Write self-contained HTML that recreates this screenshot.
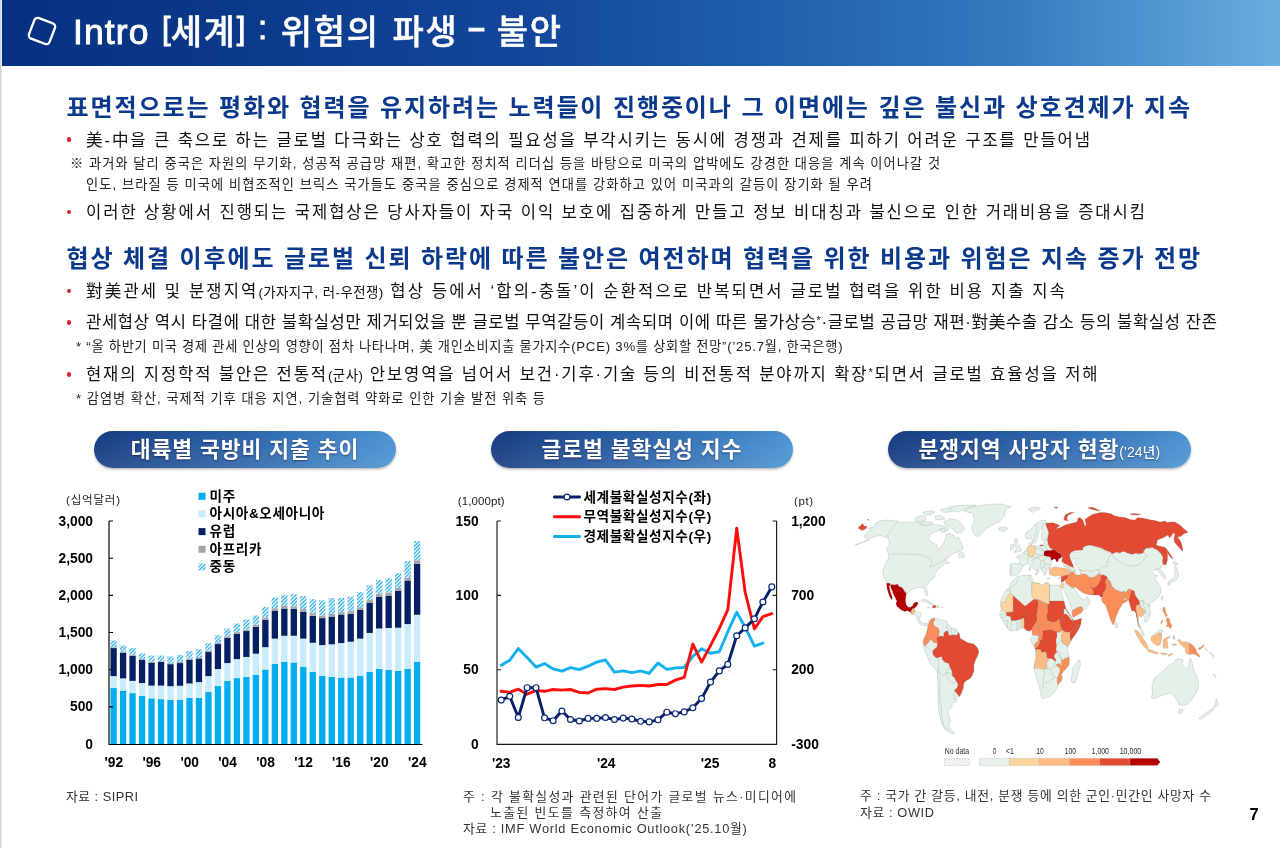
<!DOCTYPE html>
<html lang="ko"><head><meta charset="utf-8"><title>Intro [세계] : 위험의 파생 - 불안</title>
<style>
*{margin:0;padding:0;box-sizing:border-box}
html,body{width:1280px;height:848px;overflow:hidden;background:#fff}
body{position:relative;font-family:"Liberation Sans","Noto Sans CJK KR",sans-serif;}
.abs{position:absolute}
.hdr{position:absolute;left:0;top:0;width:1280px;height:66.4px;background:linear-gradient(90deg,#06307f 0%,#0a3988 18%,#12459a 40%,#1f5fab 60%,#3279bd 78%,#4f95d0 90%,#6badde 100%)}
.edge{position:absolute;left:0;top:0;width:2px;height:848px;background:linear-gradient(90deg,#d2d2d2,#ededed)}
.t{position:absolute;white-space:nowrap}
.sm{font-size:13.4px;letter-spacing:.45px}
.dash{display:inline-block;transform:translateY(-4.6px) scaleX(1.65)}
#title{-webkit-text-stroke:0.45px #fff;word-spacing:1.5px}
.la{font-weight:400;font-size:35.5px;-webkit-text-stroke:0.95px #fff;letter-spacing:1.1px}
.la,.lb,.lc{line-height:0}
.lb{font-size:31px;vertical-align:4.8px;letter-spacing:0}
.lc{font-size:33px;vertical-align:5.2px}
.sup{font-size:11px;position:relative;top:-4px}
.dot{position:absolute;width:4.4px;height:4.4px;border-radius:50%;background:#d8202a}
.pill{position:absolute;top:430.5px;height:37.5px;border-radius:19px;background:linear-gradient(180deg,rgba(255,255,255,0) 0%,rgba(255,255,255,.10) 100%),linear-gradient(90deg,#153a80 0%,#2b63aa 50%,#4b93d3 100%);box-shadow:0 1.5px 2.5px rgba(0,0,0,.28);color:#fff;font-weight:700;font-size:21.6px;line-height:37.5px;text-align:center;white-space:nowrap;text-shadow:0 1px 2px rgba(0,0,30,.45);letter-spacing:.9px}
.psm{font-size:14px;letter-spacing:0;font-weight:500}
.ax{font:700 13.8px "Liberation Sans","Noto Sans CJK KR",sans-serif;fill:#000}
.ml{font:400 8.6px "Liberation Sans","Noto Sans CJK KR",sans-serif;fill:#2b2b2b}
.lg{font:700 13.6px "Liberation Sans","Noto Sans CJK KR",sans-serif;fill:#000;letter-spacing:.62px}
</style></head>
<body>
<div class="hdr"></div>
<div class="edge"></div>
<svg class="abs" style="left:22px;top:11px" width="40" height="40" viewBox="0 0 40 40"><rect x="9" y="9" width="22" height="22" rx="3.6" fill="none" stroke="#fff" stroke-width="2.3" transform="rotate(21 20 20)"/></svg>
<div class="t " id="title" style="left:73px;top:7.00px;font-size:34px;line-height:51.0px;font-weight:500;color:#fff;letter-spacing:1.713px"><span class="la">Intro </span><span class="la lb">[</span>세계<span class="la lb">]</span> <span class="la lc">:</span> 위험의 파생 <span class="la dash">-</span> 불안</div>
<div class="t " id="h1" style="left:66.5px;top:90.00px;font-size:24px;line-height:36.0px;font-weight:700;color:#0b3a8c;letter-spacing:1.900px">표면적으로는 평화와 협력을 유지하려는 노력들이 진행중이나 그 이면에는 깊은 불신과 상호견제가 지속</div>
<div class="t " id="b1" style="left:86px;top:129.00px;font-size:16.6px;line-height:24.9px;font-weight:400;color:#111;letter-spacing:1.885px">美-中을 큰 축으로 하는 글로벌 다극화는 상호 협력의 필요성을 부각시키는 동시에 경쟁과 견제를 피하기 어려운 구조를 만들어냄</div>
<div class="t " id="n1" style="left:70px;top:154.00px;font-size:13.2px;line-height:19.8px;font-weight:400;color:#222;letter-spacing:1.072px">※ 과거와 달리 중국은 자원의 무기화, 성공적 공급망 재편, 확고한 정치적 리더십 등을 바탕으로 미국의 압박에도 강경한 대응을 계속 이어나갈 것</div>
<div class="t " id="n2" style="left:86px;top:175.00px;font-size:13.2px;line-height:19.8px;font-weight:400;color:#222;letter-spacing:1.100px">인도, 브라질 등 미국에 비협조적인 브릭스 국가들도 중국을 중심으로 경제적 연대를 강화하고 있어 미국과의 갈등이 장기화 될 우려</div>
<div class="t " id="b2" style="left:86px;top:201.00px;font-size:16.6px;line-height:24.9px;font-weight:400;color:#111;letter-spacing:1.928px">이러한 상황에서 진행되는 국제협상은 당사자들이 자국 이익 보호에 집중하게 만들고 정보 비대칭과 불신으로 인한 거래비용을 증대시킴</div>
<div class="t " id="h2" style="left:66.5px;top:241.00px;font-size:24px;line-height:36.0px;font-weight:700;color:#0b3a8c;letter-spacing:1.895px">협상 체결 이후에도 글로벌 신뢰 하락에 따른 불안은 여전하며 협력을 위한 비용과 위험은 지속 증가 전망</div>
<div class="t " id="b3" style="left:86px;top:280.00px;font-size:16.6px;line-height:24.9px;font-weight:400;color:#111;letter-spacing:2.100px">對美관세 및 분쟁지역<span class="sm">(가자지구, 러-우전쟁)</span> 협상 등에서 ‘합의-충돌’이 순환적으로 반복되면서 글로벌 협력을 위한 비용 지출 지속</div>
<div class="t " id="b4" style="left:86px;top:311.00px;font-size:16.6px;line-height:24.9px;font-weight:400;color:#111;letter-spacing:0.631px">관세협상 역시 타결에 대한 불확실성만 제거되었을 뿐 글로벌 무역갈등이 계속되며 이에 따른 물가상승<span class="sup">*</span>·글로벌 공급망 재편·對美수출 감소 등의 불확실성 잔존</div>
<div class="t " id="n3" style="left:76px;top:337.00px;font-size:13.2px;line-height:19.8px;font-weight:400;color:#222;letter-spacing:0.762px">* “올 하반기 미국 경제 관세 인상의 영향이 점차 나타나며, 美 개인소비지출 물가지수(PCE) 3%를 상회할 전망”(’25.7월, 한국은행)</div>
<div class="t " id="b5" style="left:86px;top:363.00px;font-size:16.6px;line-height:24.9px;font-weight:400;color:#111;letter-spacing:1.853px">현재의 지정학적 불안은 전통적<span class="sm">(군사)</span> 안보영역을 넘어서 보건·기후·기술 등의 비전통적 분야까지 확장<span class="sup">*</span>되면서 글로벌 효율성을 저해</div>
<div class="t " id="n4" style="left:76px;top:389.00px;font-size:13.2px;line-height:19.8px;font-weight:400;color:#222;letter-spacing:0.998px">* 감염병 확산, 국제적 기후 대응 지연, 기술협력 약화로 인한 기술 발전 위축 등</div>
<div class="t " id="s1" style="left:66px;top:787.00px;font-size:12.8px;line-height:19.2px;font-weight:400;color:#333;letter-spacing:0.484px">자료 : SIPRI</div>
<div class="t " id="s2a" style="left:463px;top:787.00px;font-size:12.8px;line-height:19.2px;font-weight:400;color:#333;letter-spacing:1.376px">주 : 각 불확실성과 관련된 단어가 글로벌 뉴스·미디어에</div>
<div class="t " id="s2b" style="left:490px;top:803.00px;font-size:12.8px;line-height:19.2px;font-weight:400;color:#333;letter-spacing:1.432px">노출된 빈도를 측정하여 산출</div>
<div class="t " id="s2c" style="left:463px;top:819.00px;font-size:12.8px;line-height:19.2px;font-weight:400;color:#333;letter-spacing:0.724px">자료 : IMF World Economic Outlook(’25.10월)</div>
<div class="t " id="s3a" style="left:860px;top:786.00px;font-size:12.8px;line-height:19.2px;font-weight:400;color:#333;letter-spacing:0.707px">주 : 국가 간 갈등, 내전, 분쟁 등에 의한 군인·민간인 사망자 수</div>
<div class="t " id="s3b" style="left:860px;top:803.00px;font-size:12.8px;line-height:19.2px;font-weight:400;color:#333;letter-spacing:0.619px">자료 : OWID</div>
<div class="t " id="pg" style="left:1249.6px;top:803.00px;font-size:16.6px;line-height:24.9px;font-weight:700;color:#000;letter-spacing:0.000px">7</div>
<div class="t " id="u1" style="left:66px;top:492.00px;font-size:11.5px;line-height:17.2px;font-weight:400;color:#222;letter-spacing:0.803px">(십억달러)</div>
<div class="t " id="u2" style="left:457.7px;top:493.00px;font-size:11.5px;line-height:17.2px;font-weight:400;color:#222;letter-spacing:0.109px">(1,000pt)</div>
<div class="t " id="u3" style="left:794px;top:493.00px;font-size:11.5px;line-height:17.2px;font-weight:400;color:#222;letter-spacing:0.583px">(pt)</div>
<div class="dot" style="left:66.6px;top:137.2px"></div>
<div class="dot" style="left:66.6px;top:210.0px"></div>
<div class="dot" style="left:66.6px;top:288.7px"></div>
<div class="dot" style="left:66.6px;top:320.2px"></div>
<div class="dot" style="left:66.6px;top:372.2px"></div>
<div class="pill" id="p1" style="left:94px;width:302.0px"><span>대륙별 국방비 지출 추이</span></div>
<div class="pill" id="p2" style="left:491px;width:301.7px"><span>글로벌 불확실성 지수</span></div>
<div class="pill" id="p3" style="left:888px;width:302.6px"><span>분쟁지역 사망자 현황<span class="psm">(’24년)</span></span></div>
<svg class="abs" style="left:0;top:0" width="1280" height="848" viewBox="0 0 1280 848">
<defs><pattern id="hat" width="2.6" height="2.6" patternUnits="userSpaceOnUse" patternTransform="rotate(-45)"><rect width="2.6" height="2.6" fill="#fff"/><rect width="2.6" height="1.25" fill="#1fa9e6"/></pattern></defs>
<rect x="110.45" y="688.06" width="6.3" height="55.94" fill="#00adee"/>
<rect x="110.45" y="676.11" width="6.3" height="11.95" fill="#c8ecfc"/>
<rect x="110.45" y="648.06" width="6.3" height="28.05" fill="#051f63"/>
<rect x="110.45" y="647.30" width="6.3" height="0.77" fill="#a6a6a6"/>
<rect x="110.45" y="640.40" width="6.3" height="6.90" fill="url(#hat)"/>
<rect x="119.93" y="690.67" width="6.3" height="53.33" fill="#00adee"/>
<rect x="119.93" y="678.41" width="6.3" height="12.26" fill="#c8ecfc"/>
<rect x="119.93" y="652.81" width="6.3" height="25.59" fill="#051f63"/>
<rect x="119.93" y="651.74" width="6.3" height="1.07" fill="#a6a6a6"/>
<rect x="119.93" y="645.46" width="6.3" height="6.28" fill="url(#hat)"/>
<rect x="129.42" y="693.12" width="6.3" height="50.88" fill="#00adee"/>
<rect x="129.42" y="680.86" width="6.3" height="12.26" fill="#c8ecfc"/>
<rect x="129.42" y="655.88" width="6.3" height="24.98" fill="#051f63"/>
<rect x="129.42" y="654.50" width="6.3" height="1.38" fill="#a6a6a6"/>
<rect x="129.42" y="648.06" width="6.3" height="6.44" fill="url(#hat)"/>
<rect x="138.90" y="696.03" width="6.3" height="47.97" fill="#00adee"/>
<rect x="138.90" y="683.00" width="6.3" height="13.03" fill="#c8ecfc"/>
<rect x="138.90" y="660.02" width="6.3" height="22.99" fill="#051f63"/>
<rect x="138.90" y="659.10" width="6.3" height="0.92" fill="#a6a6a6"/>
<rect x="138.90" y="653.27" width="6.3" height="5.82" fill="url(#hat)"/>
<rect x="148.39" y="698.33" width="6.3" height="45.67" fill="#00adee"/>
<rect x="148.39" y="685.61" width="6.3" height="12.72" fill="#c8ecfc"/>
<rect x="148.39" y="662.62" width="6.3" height="22.99" fill="#051f63"/>
<rect x="148.39" y="661.55" width="6.3" height="1.07" fill="#a6a6a6"/>
<rect x="148.39" y="655.57" width="6.3" height="5.98" fill="url(#hat)"/>
<rect x="157.87" y="699.10" width="6.3" height="44.90" fill="#00adee"/>
<rect x="157.87" y="685.61" width="6.3" height="13.49" fill="#c8ecfc"/>
<rect x="157.87" y="662.01" width="6.3" height="23.60" fill="#051f63"/>
<rect x="157.87" y="661.24" width="6.3" height="0.77" fill="#a6a6a6"/>
<rect x="157.87" y="655.42" width="6.3" height="5.82" fill="url(#hat)"/>
<rect x="167.36" y="700.02" width="6.3" height="43.98" fill="#00adee"/>
<rect x="167.36" y="686.22" width="6.3" height="13.79" fill="#c8ecfc"/>
<rect x="167.36" y="664.15" width="6.3" height="22.07" fill="#051f63"/>
<rect x="167.36" y="663.23" width="6.3" height="0.92" fill="#a6a6a6"/>
<rect x="167.36" y="656.34" width="6.3" height="6.90" fill="url(#hat)"/>
<rect x="176.84" y="700.02" width="6.3" height="43.98" fill="#00adee"/>
<rect x="176.84" y="685.76" width="6.3" height="14.25" fill="#c8ecfc"/>
<rect x="176.84" y="663.08" width="6.3" height="22.68" fill="#051f63"/>
<rect x="176.84" y="661.85" width="6.3" height="1.23" fill="#a6a6a6"/>
<rect x="176.84" y="654.80" width="6.3" height="7.05" fill="url(#hat)"/>
<rect x="186.33" y="698.02" width="6.3" height="45.98" fill="#00adee"/>
<rect x="186.33" y="683.46" width="6.3" height="14.56" fill="#c8ecfc"/>
<rect x="186.33" y="660.02" width="6.3" height="23.45" fill="#051f63"/>
<rect x="186.33" y="658.64" width="6.3" height="1.38" fill="#a6a6a6"/>
<rect x="186.33" y="651.28" width="6.3" height="7.36" fill="url(#hat)"/>
<rect x="195.81" y="697.87" width="6.3" height="46.13" fill="#00adee"/>
<rect x="195.81" y="682.08" width="6.3" height="15.79" fill="#c8ecfc"/>
<rect x="195.81" y="658.48" width="6.3" height="23.60" fill="#051f63"/>
<rect x="195.81" y="657.10" width="6.3" height="1.38" fill="#a6a6a6"/>
<rect x="195.81" y="649.29" width="6.3" height="7.82" fill="url(#hat)"/>
<rect x="205.30" y="692.05" width="6.3" height="51.95" fill="#00adee"/>
<rect x="205.30" y="676.11" width="6.3" height="15.94" fill="#c8ecfc"/>
<rect x="205.30" y="652.05" width="6.3" height="24.06" fill="#051f63"/>
<rect x="205.30" y="650.67" width="6.3" height="1.38" fill="#a6a6a6"/>
<rect x="205.30" y="643.16" width="6.3" height="7.51" fill="url(#hat)"/>
<rect x="214.78" y="686.07" width="6.3" height="57.93" fill="#00adee"/>
<rect x="214.78" y="669.06" width="6.3" height="17.01" fill="#c8ecfc"/>
<rect x="214.78" y="644.08" width="6.3" height="24.98" fill="#051f63"/>
<rect x="214.78" y="642.85" width="6.3" height="1.23" fill="#a6a6a6"/>
<rect x="214.78" y="635.34" width="6.3" height="7.51" fill="url(#hat)"/>
<rect x="224.27" y="681.01" width="6.3" height="62.99" fill="#00adee"/>
<rect x="224.27" y="663.08" width="6.3" height="17.93" fill="#c8ecfc"/>
<rect x="224.27" y="637.95" width="6.3" height="25.13" fill="#051f63"/>
<rect x="224.27" y="636.26" width="6.3" height="1.69" fill="#a6a6a6"/>
<rect x="224.27" y="628.60" width="6.3" height="7.66" fill="url(#hat)"/>
<rect x="233.75" y="678.10" width="6.3" height="65.90" fill="#00adee"/>
<rect x="233.75" y="659.10" width="6.3" height="19.00" fill="#c8ecfc"/>
<rect x="233.75" y="633.96" width="6.3" height="25.13" fill="#051f63"/>
<rect x="233.75" y="632.12" width="6.3" height="1.84" fill="#a6a6a6"/>
<rect x="233.75" y="623.54" width="6.3" height="8.58" fill="url(#hat)"/>
<rect x="243.24" y="677.03" width="6.3" height="66.97" fill="#00adee"/>
<rect x="243.24" y="656.95" width="6.3" height="20.08" fill="#c8ecfc"/>
<rect x="243.24" y="631.05" width="6.3" height="25.90" fill="#051f63"/>
<rect x="243.24" y="629.52" width="6.3" height="1.53" fill="#a6a6a6"/>
<rect x="243.24" y="619.60" width="6.3" height="9.92" fill="url(#hat)"/>
<rect x="252.72" y="674.70" width="6.3" height="69.30" fill="#00adee"/>
<rect x="252.72" y="653.68" width="6.3" height="21.02" fill="#c8ecfc"/>
<rect x="252.72" y="626.69" width="6.3" height="26.99" fill="#051f63"/>
<rect x="252.72" y="624.87" width="6.3" height="1.82" fill="#a6a6a6"/>
<rect x="252.72" y="615.53" width="6.3" height="9.34" fill="url(#hat)"/>
<rect x="262.21" y="669.51" width="6.3" height="74.49" fill="#00adee"/>
<rect x="262.21" y="647.19" width="6.3" height="22.32" fill="#c8ecfc"/>
<rect x="262.21" y="619.68" width="6.3" height="27.51" fill="#051f63"/>
<rect x="262.21" y="617.60" width="6.3" height="2.08" fill="#a6a6a6"/>
<rect x="262.21" y="606.96" width="6.3" height="10.64" fill="url(#hat)"/>
<rect x="271.69" y="663.80" width="6.3" height="80.20" fill="#00adee"/>
<rect x="271.69" y="638.63" width="6.3" height="25.18" fill="#c8ecfc"/>
<rect x="271.69" y="610.60" width="6.3" height="28.03" fill="#051f63"/>
<rect x="271.69" y="608.26" width="6.3" height="2.34" fill="#a6a6a6"/>
<rect x="271.69" y="597.36" width="6.3" height="10.90" fill="url(#hat)"/>
<rect x="281.18" y="661.73" width="6.3" height="82.27" fill="#00adee"/>
<rect x="281.18" y="635.77" width="6.3" height="25.95" fill="#c8ecfc"/>
<rect x="281.18" y="608.52" width="6.3" height="27.25" fill="#051f63"/>
<rect x="281.18" y="605.93" width="6.3" height="2.60" fill="#a6a6a6"/>
<rect x="281.18" y="594.77" width="6.3" height="11.16" fill="url(#hat)"/>
<rect x="290.66" y="662.51" width="6.3" height="81.49" fill="#00adee"/>
<rect x="290.66" y="635.77" width="6.3" height="26.73" fill="#c8ecfc"/>
<rect x="290.66" y="608.78" width="6.3" height="26.99" fill="#051f63"/>
<rect x="290.66" y="606.44" width="6.3" height="2.34" fill="#a6a6a6"/>
<rect x="290.66" y="594.25" width="6.3" height="12.20" fill="url(#hat)"/>
<rect x="300.15" y="666.66" width="6.3" height="77.34" fill="#00adee"/>
<rect x="300.15" y="638.63" width="6.3" height="28.03" fill="#c8ecfc"/>
<rect x="300.15" y="611.64" width="6.3" height="26.99" fill="#051f63"/>
<rect x="300.15" y="609.04" width="6.3" height="2.60" fill="#a6a6a6"/>
<rect x="300.15" y="596.06" width="6.3" height="12.98" fill="url(#hat)"/>
<rect x="309.63" y="671.85" width="6.3" height="72.15" fill="#00adee"/>
<rect x="309.63" y="642.78" width="6.3" height="29.07" fill="#c8ecfc"/>
<rect x="309.63" y="615.79" width="6.3" height="26.99" fill="#051f63"/>
<rect x="309.63" y="613.19" width="6.3" height="2.60" fill="#a6a6a6"/>
<rect x="309.63" y="599.18" width="6.3" height="14.02" fill="url(#hat)"/>
<rect x="319.12" y="676.00" width="6.3" height="68.00" fill="#00adee"/>
<rect x="319.12" y="645.12" width="6.3" height="30.89" fill="#c8ecfc"/>
<rect x="319.12" y="618.12" width="6.3" height="26.99" fill="#051f63"/>
<rect x="319.12" y="615.53" width="6.3" height="2.60" fill="#a6a6a6"/>
<rect x="319.12" y="600.22" width="6.3" height="15.31" fill="url(#hat)"/>
<rect x="328.60" y="677.04" width="6.3" height="66.96" fill="#00adee"/>
<rect x="328.60" y="644.34" width="6.3" height="32.70" fill="#c8ecfc"/>
<rect x="328.60" y="616.57" width="6.3" height="27.77" fill="#051f63"/>
<rect x="328.60" y="613.97" width="6.3" height="2.60" fill="#a6a6a6"/>
<rect x="328.60" y="598.14" width="6.3" height="15.83" fill="url(#hat)"/>
<rect x="338.09" y="677.56" width="6.3" height="66.44" fill="#00adee"/>
<rect x="338.09" y="643.04" width="6.3" height="34.52" fill="#c8ecfc"/>
<rect x="338.09" y="614.49" width="6.3" height="28.55" fill="#051f63"/>
<rect x="338.09" y="612.15" width="6.3" height="2.34" fill="#a6a6a6"/>
<rect x="338.09" y="597.88" width="6.3" height="14.27" fill="url(#hat)"/>
<rect x="347.57" y="677.56" width="6.3" height="66.44" fill="#00adee"/>
<rect x="347.57" y="641.74" width="6.3" height="35.82" fill="#c8ecfc"/>
<rect x="347.57" y="613.71" width="6.3" height="28.03" fill="#051f63"/>
<rect x="347.57" y="611.12" width="6.3" height="2.60" fill="#a6a6a6"/>
<rect x="347.57" y="596.58" width="6.3" height="14.53" fill="url(#hat)"/>
<rect x="357.06" y="675.74" width="6.3" height="68.26" fill="#00adee"/>
<rect x="357.06" y="638.63" width="6.3" height="37.11" fill="#c8ecfc"/>
<rect x="357.06" y="609.56" width="6.3" height="29.07" fill="#051f63"/>
<rect x="357.06" y="607.22" width="6.3" height="2.34" fill="#a6a6a6"/>
<rect x="357.06" y="592.17" width="6.3" height="15.05" fill="url(#hat)"/>
<rect x="366.54" y="671.85" width="6.3" height="72.15" fill="#00adee"/>
<rect x="366.54" y="632.92" width="6.3" height="38.93" fill="#c8ecfc"/>
<rect x="366.54" y="602.55" width="6.3" height="30.37" fill="#051f63"/>
<rect x="366.54" y="599.96" width="6.3" height="2.60" fill="#a6a6a6"/>
<rect x="366.54" y="585.42" width="6.3" height="14.53" fill="url(#hat)"/>
<rect x="376.03" y="668.99" width="6.3" height="75.01" fill="#00adee"/>
<rect x="376.03" y="628.51" width="6.3" height="40.49" fill="#c8ecfc"/>
<rect x="376.03" y="596.58" width="6.3" height="31.92" fill="#051f63"/>
<rect x="376.03" y="593.73" width="6.3" height="2.85" fill="#a6a6a6"/>
<rect x="376.03" y="579.97" width="6.3" height="13.76" fill="url(#hat)"/>
<rect x="385.51" y="669.77" width="6.3" height="74.23" fill="#00adee"/>
<rect x="385.51" y="627.99" width="6.3" height="41.79" fill="#c8ecfc"/>
<rect x="385.51" y="595.54" width="6.3" height="32.44" fill="#051f63"/>
<rect x="385.51" y="592.43" width="6.3" height="3.11" fill="#a6a6a6"/>
<rect x="385.51" y="578.41" width="6.3" height="14.02" fill="url(#hat)"/>
<rect x="395.00" y="670.81" width="6.3" height="73.19" fill="#00adee"/>
<rect x="395.00" y="627.73" width="6.3" height="43.08" fill="#c8ecfc"/>
<rect x="395.00" y="590.61" width="6.3" height="37.11" fill="#051f63"/>
<rect x="395.00" y="587.76" width="6.3" height="2.85" fill="#a6a6a6"/>
<rect x="395.00" y="573.22" width="6.3" height="14.53" fill="url(#hat)"/>
<rect x="404.48" y="668.73" width="6.3" height="75.27" fill="#00adee"/>
<rect x="404.48" y="624.09" width="6.3" height="44.64" fill="#c8ecfc"/>
<rect x="404.48" y="580.49" width="6.3" height="43.60" fill="#051f63"/>
<rect x="404.48" y="577.64" width="6.3" height="2.85" fill="#a6a6a6"/>
<rect x="404.48" y="561.03" width="6.3" height="16.61" fill="url(#hat)"/>
<rect x="413.97" y="661.99" width="6.3" height="82.01" fill="#00adee"/>
<rect x="413.97" y="614.75" width="6.3" height="47.24" fill="#c8ecfc"/>
<rect x="413.97" y="563.62" width="6.3" height="51.13" fill="#051f63"/>
<rect x="413.97" y="560.25" width="6.3" height="3.37" fill="#a6a6a6"/>
<rect x="413.97" y="541.04" width="6.3" height="19.21" fill="url(#hat)"/>
<path d="M109 521V744.5H422.5M109 521h4M109 558.2h4M109 595.3h4M109 632.5h4M109 669.7h4M109 706.8h4" stroke="#000" stroke-width="1.15" fill="none"/>
<text x="93" y="748.6" text-anchor="end" class="ax">0</text>
<text x="93" y="711.4" text-anchor="end" class="ax">500</text>
<text x="93" y="674.3" text-anchor="end" class="ax">1,000</text>
<text x="93" y="637.1" text-anchor="end" class="ax">1,500</text>
<text x="93" y="599.9" text-anchor="end" class="ax">2,000</text>
<text x="93" y="562.8" text-anchor="end" class="ax">2,500</text>
<text x="93" y="525.6" text-anchor="end" class="ax">3,000</text>
<text x="113.8" y="767.4" text-anchor="middle" class="ax">&#39;92</text>
<text x="151.7" y="767.4" text-anchor="middle" class="ax">&#39;96</text>
<text x="189.7" y="767.4" text-anchor="middle" class="ax">&#39;00</text>
<text x="227.6" y="767.4" text-anchor="middle" class="ax">&#39;04</text>
<text x="265.6" y="767.4" text-anchor="middle" class="ax">&#39;08</text>
<text x="303.5" y="767.4" text-anchor="middle" class="ax">&#39;12</text>
<text x="341.4" y="767.4" text-anchor="middle" class="ax">&#39;16</text>
<text x="379.4" y="767.4" text-anchor="middle" class="ax">&#39;20</text>
<text x="417.3" y="767.4" text-anchor="middle" class="ax">&#39;24</text>
<rect x="198.5" y="492.8" width="7" height="7" fill="#00adee"/>
<text x="209.5" y="500.6" class="lg">미주</text>
<rect x="198.5" y="510.4" width="7" height="7" fill="#c8ecfc"/>
<text x="209.5" y="518.2" class="lg">아시아&amp;오세아니아</text>
<rect x="198.5" y="528.1" width="7" height="7" fill="#051f63"/>
<text x="209.5" y="535.9" class="lg">유럽</text>
<rect x="198.5" y="545.8" width="7" height="7" fill="#a6a6a6"/>
<text x="209.5" y="553.6" class="lg">아프리카</text>
<rect x="198.5" y="563.4" width="7" height="7" fill="url(#hat)"/>
<text x="209.5" y="571.2" class="lg">중동</text>
</svg>
<svg class="abs" style="left:0;top:0" width="1280" height="848" viewBox="0 0 1280 848">
<path d="M497.0 521V744.3H776.6V521M497.0 521h4M497.0 595.3h4M497.0 669.7h4M776.6 521h-4M776.6 595.3h-4M776.6 669.7h-4" stroke="#1a1a1a" stroke-width="1.15" fill="none"/>
<polyline points="501.2,665.3 509.7,660.3 518.3,648.5 527.1,657.4 536.0,667.1 544.5,663.6 553.1,668.9 561.9,671.2 570.5,667.7 579.3,669.7 588.1,666.2 596.7,662.1 605.5,660.0 614.4,672.1 623.2,670.9 631.8,672.7 640.6,670.9 649.2,673.3 658.0,663.0 666.8,669.4 675.4,668.0 684.2,667.4 692.8,656.5 701.6,648.8 710.5,653.2 719.3,651.8 727.8,631.7 736.7,612.3 745.2,627.3 754.4,646.2 762.9,643.2" fill="none" stroke="#12b0ee" stroke-width="2.9" stroke-linejoin="round" stroke-linecap="round"/>
<polyline points="501.2,691.3 509.7,692.4 518.3,689.2 527.1,694.2 536.0,690.4 544.5,691.3 553.1,689.5 561.9,690.1 570.5,689.5 579.3,692.4 588.1,693.0 596.7,689.2 605.5,688.6 614.4,689.5 623.2,687.1 631.8,686.0 640.6,685.4 649.2,686.0 658.0,684.5 666.8,684.5 675.4,680.1 684.2,677.4 692.8,644.1 701.6,662.1 710.5,645.6 719.3,628.5 727.8,609.6 736.7,528.3 745.2,592.5 754.4,628.8 762.9,616.7 771.8,613.7" fill="none" stroke="#ff0d0d" stroke-width="2.9" stroke-linejoin="round" stroke-linecap="round"/>
<polyline points="501.2,700.1 509.7,696.3 518.3,717.5 527.1,687.7 536.0,687.7 544.5,717.8 553.1,720.7 561.9,711.0 570.5,719.5 579.3,721.0 588.1,718.4 596.7,718.4 605.5,717.5 614.4,719.5 623.2,718.1 631.8,719.0 640.6,721.3 649.2,721.9 658.0,719.8 666.8,712.2 675.4,713.7 684.2,711.9 692.8,707.8 701.6,698.6 710.5,682.1 719.3,670.9 727.8,664.4 736.7,635.8 745.2,627.9 754.4,618.8 762.9,602.0 771.8,586.9" fill="none" stroke="#071f66" stroke-width="2.9" stroke-linejoin="round" stroke-linecap="round"/>
<circle cx="501.2" cy="700.1" r="2.95" fill="#fff" stroke="#0a2a7a" stroke-width="1.2"/>
<circle cx="509.7" cy="696.3" r="2.95" fill="#fff" stroke="#0a2a7a" stroke-width="1.2"/>
<circle cx="518.3" cy="717.5" r="2.95" fill="#fff" stroke="#0a2a7a" stroke-width="1.2"/>
<circle cx="527.1" cy="687.7" r="2.95" fill="#fff" stroke="#0a2a7a" stroke-width="1.2"/>
<circle cx="536.0" cy="687.7" r="2.95" fill="#fff" stroke="#0a2a7a" stroke-width="1.2"/>
<circle cx="544.5" cy="717.8" r="2.95" fill="#fff" stroke="#0a2a7a" stroke-width="1.2"/>
<circle cx="553.1" cy="720.7" r="2.95" fill="#fff" stroke="#0a2a7a" stroke-width="1.2"/>
<circle cx="561.9" cy="711.0" r="2.95" fill="#fff" stroke="#0a2a7a" stroke-width="1.2"/>
<circle cx="570.5" cy="719.5" r="2.95" fill="#fff" stroke="#0a2a7a" stroke-width="1.2"/>
<circle cx="579.3" cy="721.0" r="2.95" fill="#fff" stroke="#0a2a7a" stroke-width="1.2"/>
<circle cx="588.1" cy="718.4" r="2.95" fill="#fff" stroke="#0a2a7a" stroke-width="1.2"/>
<circle cx="596.7" cy="718.4" r="2.95" fill="#fff" stroke="#0a2a7a" stroke-width="1.2"/>
<circle cx="605.5" cy="717.5" r="2.95" fill="#fff" stroke="#0a2a7a" stroke-width="1.2"/>
<circle cx="614.4" cy="719.5" r="2.95" fill="#fff" stroke="#0a2a7a" stroke-width="1.2"/>
<circle cx="623.2" cy="718.1" r="2.95" fill="#fff" stroke="#0a2a7a" stroke-width="1.2"/>
<circle cx="631.8" cy="719.0" r="2.95" fill="#fff" stroke="#0a2a7a" stroke-width="1.2"/>
<circle cx="640.6" cy="721.3" r="2.95" fill="#fff" stroke="#0a2a7a" stroke-width="1.2"/>
<circle cx="649.2" cy="721.9" r="2.95" fill="#fff" stroke="#0a2a7a" stroke-width="1.2"/>
<circle cx="658.0" cy="719.8" r="2.95" fill="#fff" stroke="#0a2a7a" stroke-width="1.2"/>
<circle cx="666.8" cy="712.2" r="2.95" fill="#fff" stroke="#0a2a7a" stroke-width="1.2"/>
<circle cx="675.4" cy="713.7" r="2.95" fill="#fff" stroke="#0a2a7a" stroke-width="1.2"/>
<circle cx="684.2" cy="711.9" r="2.95" fill="#fff" stroke="#0a2a7a" stroke-width="1.2"/>
<circle cx="692.8" cy="707.8" r="2.95" fill="#fff" stroke="#0a2a7a" stroke-width="1.2"/>
<circle cx="701.6" cy="698.6" r="2.95" fill="#fff" stroke="#0a2a7a" stroke-width="1.2"/>
<circle cx="710.5" cy="682.1" r="2.95" fill="#fff" stroke="#0a2a7a" stroke-width="1.2"/>
<circle cx="719.3" cy="670.9" r="2.95" fill="#fff" stroke="#0a2a7a" stroke-width="1.2"/>
<circle cx="727.8" cy="664.4" r="2.95" fill="#fff" stroke="#0a2a7a" stroke-width="1.2"/>
<circle cx="736.7" cy="635.8" r="2.95" fill="#fff" stroke="#0a2a7a" stroke-width="1.2"/>
<circle cx="745.2" cy="627.9" r="2.95" fill="#fff" stroke="#0a2a7a" stroke-width="1.2"/>
<circle cx="754.4" cy="618.8" r="2.95" fill="#fff" stroke="#0a2a7a" stroke-width="1.2"/>
<circle cx="762.9" cy="602.0" r="2.95" fill="#fff" stroke="#0a2a7a" stroke-width="1.2"/>
<circle cx="771.8" cy="586.9" r="2.95" fill="#fff" stroke="#0a2a7a" stroke-width="1.2"/>
<text x="478.6" y="748.7" text-anchor="end" class="ax">0</text>
<text x="478.6" y="674.4" text-anchor="end" class="ax">50</text>
<text x="478.6" y="600.0" text-anchor="end" class="ax">100</text>
<text x="478.6" y="525.7" text-anchor="end" class="ax">150</text>
<text x="791.2" y="748.7" class="ax">-300</text>
<text x="791.2" y="674.4" class="ax">200</text>
<text x="791.2" y="600.0" class="ax">700</text>
<text x="791.2" y="525.7" class="ax">1,200</text>
<text x="501.2" y="768.3" text-anchor="middle" class="ax">'23</text>
<text x="606.2" y="768.3" text-anchor="middle" class="ax">'24</text>
<text x="710" y="768.3" text-anchor="middle" class="ax">'25</text>
<text x="772.3" y="768.3" text-anchor="middle" class="ax">8</text>
<path d="M554.4 497.0H579.6" stroke="#071f66" stroke-width="2.9" stroke-linecap="round"/>
<circle cx="567" cy="497.0" r="2.95" fill="#fff" stroke="#0a2a7a" stroke-width="1.2"/>
<text x="583.4" y="501.6" class="lg">세계불확실성지수(좌)</text>
<path d="M554.4 516.75H579.6" stroke="#ff0d0d" stroke-width="2.9" stroke-linecap="round"/>
<text x="583.4" y="521.4" class="lg">무역불확실성지수(우)</text>
<path d="M554.4 536.5H579.6" stroke="#12b0ee" stroke-width="2.9" stroke-linecap="round"/>
<text x="583.4" y="541.1" class="lg">경제불확실성지수(우)</text>
</svg>
<svg class="abs" style="left:0;top:0" width="1280" height="848" viewBox="0 0 1280 848"><g stroke="#55605a" stroke-opacity=".5" stroke-width="0.35" stroke-linejoin="round">
<polygon points="854.4,545.6 863.8,541.5 868.1,539.5 863.8,536.5 866.9,533.1 870.6,530.6 869.4,528.1 873.8,526.9 875.6,523.1 881.2,520.6 887.5,520.0 897.5,521.2 901.2,522.5 910.0,521.9 918.8,521.9 920.0,524.4 925.0,525.0 932.5,524.4 940.0,525.0 945.0,526.2 948.8,528.1 947.5,530.6 943.8,531.2 940.0,530.6 935.0,531.9 931.2,533.8 929.0,536.9 929.8,540.6 933.1,543.1 936.9,544.8 937.8,550.0 939.0,550.0 940.2,546.9 943.8,543.1 945.2,538.8 946.5,534.4 948.8,533.1 953.8,535.0 955.0,538.1 958.1,536.9 961.2,542.5 963.1,546.2 962.5,550.0 958.1,551.9 953.8,553.1 948.8,556.9 945.0,560.0 950.0,563.1 945.0,563.5 940.0,567.5 935.0,573.1 934.4,577.5 927.5,583.8 926.2,587.5 928.1,593.8 926.2,596.2 924.4,590.6 923.8,587.8 917.5,587.5 912.5,588.8 906.9,593.8 903.8,588.8 898.8,584.4 895.0,585.0 886.9,582.5 883.8,577.5 882.5,571.2 885.0,565.0 888.8,557.5 888.1,552.5 886.2,548.8 889.4,545.0 888.8,538.8 885.0,536.9 880.0,535.6 876.2,536.2 871.2,538.1 868.1,540.2" fill="#e5f0e8"/>
<polygon points="958.1,553.8 961.9,551.9 964.8,555.0 963.8,558.1 959.4,557.5" fill="#e5f0e8"/>
<polygon points="914.4,518.8 920.0,515.6 925.0,516.2 926.2,520.0 921.2,521.9 916.2,521.2" fill="#e5f0e8"/>
<polygon points="920.0,523.1 925.0,521.9 932.5,522.5 931.2,525.0 923.8,525.2" fill="#e5f0e8"/>
<polygon points="922.5,512.5 930.0,510.6 935.0,511.9 931.2,515.0 925.0,515.0" fill="#e5f0e8"/>
<polygon points="935.0,516.2 941.2,515.6 945.0,518.8 940.0,520.0 935.6,519.4" fill="#e5f0e8"/>
<polygon points="940.0,509.4 948.8,508.1 955.0,508.8 951.2,511.9 943.8,512.5" fill="#e5f0e8"/>
<polygon points="943.8,521.9 950.0,518.8 957.5,520.0 962.5,525.0 965.0,528.8 961.2,532.5 956.2,533.1 953.8,530.0 948.8,526.2 945.0,524.4" fill="#e5f0e8"/>
<polygon points="948.8,506.9 957.5,505.6 967.5,505.0 976.2,505.2 970.0,508.1 962.5,510.6 955.0,511.9 951.2,510.0" fill="#e5f0e8"/>
<polygon points="940.0,528.8 945.0,528.5 945.6,531.9 941.9,532.5" fill="#e5f0e8"/>
<polygon points="964.5,511.0 966.9,508.2 972.1,506.8 979.6,505.8 987.2,504.4 994.7,504.0 1002.3,504.0 1006.0,505.4 1011.2,506.8 1007.0,508.2 1005.1,512.0 1004.2,516.2 1001.3,519.5 999.0,522.4 995.7,523.3 990.9,526.1 986.2,529.0 982.5,532.7 979.6,536.0 977.3,536.5 974.0,534.6 972.5,531.3 972.1,527.1 973.5,523.3 974.4,519.5 973.5,515.8 972.1,512.9 968.3,512.5" fill="#e5f0e8"/>
<polygon points="998.5,528.0 1001.3,527.1 1006.0,527.1 1007.9,528.5 1006.0,530.4 1002.3,531.6 999.4,530.4" fill="#e5f0e8"/>
<polygon points="1028.2,509.2 1032.0,507.7 1036.2,507.3 1040.5,508.2 1039.1,509.6 1035.3,510.6 1032.9,512.5 1030.1,511.0" fill="#e5f0e8"/>
<polygon points="914.3,609.6 914.8,612.0 917.2,611.5 920.5,612.0 921.4,613.9 920.5,616.2 919.5,619.1 920.9,621.9 923.8,623.3 925.7,624.2 926.6,622.8 928.0,624.7 927.1,625.7 924.2,626.1 921.4,624.7 918.6,622.8 917.2,620.0 916.7,617.2 915.3,615.3 913.4,614.3 914.3,612.0" fill="#e5f0e8"/>
<polygon points="920.9,600.2 923.8,599.1 927.5,600.2 931.3,603.0 933.2,604.4 931.8,604.7 928.5,603.2 925.2,601.6 921.9,601.3" fill="#e5f0e8"/>
<polygon points="935.6,605.4 938.9,606.0 939.6,607.3 937.0,607.9 935.6,607.7" fill="#e5f0e8"/>
<polygon points="927.5,607.3 929.4,607.3 929.4,608.2 927.7,608.2" fill="#e5f0e8"/>
<polygon points="941.5,607.0 942.6,607.0 942.6,607.6 941.5,607.6" fill="#e5f0e8"/>
<polygon points="931.2,619.1 934.4,617.9 937.5,618.5 942.5,620.4 946.2,620.4 948.1,624.1 951.2,627.9 955.0,628.5 958.1,631.6 959.4,634.1 960.0,638.5 963.8,640.4 968.1,642.9 973.8,644.1 977.5,647.9 978.8,651.6 977.5,656.0 975.0,661.0 973.8,664.8 973.8,671.0 972.5,674.8 970.0,678.5 966.2,680.4 963.8,682.9 963.1,688.5 961.2,693.5 959.4,696.6 959.4,696.9 956.9,697.5 955.0,698.8 956.2,701.9 952.5,703.1 951.9,706.9 948.8,709.4 948.1,712.5 949.4,716.2 950.6,721.2 948.8,725.0 950.6,728.8 953.8,731.9 955.0,733.5 950.0,733.1 945.0,729.4 941.2,722.5 939.4,715.0 938.1,705.0 938.1,692.5 937.5,680.0 937.5,672.2 935.0,669.1 930.0,663.5 927.5,657.2 925.0,651.0 923.1,646.6 923.1,641.0 925.0,637.2 926.2,634.1 927.5,629.8 928.1,625.4 929.4,621.6" fill="#e5f0e8"/>
<polygon points="1017.0,576.5 1020.3,576.0 1025.0,575.1 1029.7,575.1 1031.6,575.6 1032.5,579.8 1034.0,582.6 1039.2,583.6 1042.9,585.9 1044.8,583.1 1048.1,582.6 1049.5,585.0 1053.3,585.0 1058.0,585.5 1060.4,585.0 1061.0,586.6 1060.0,587.5 1061.9,593.8 1063.8,600.0 1065.0,606.2 1067.5,611.2 1070.0,615.0 1071.9,618.1 1072.6,619.6 1075.0,620.4 1081.4,618.5 1080.7,624.2 1078.8,628.9 1075.9,633.6 1073.1,637.4 1071.2,640.0 1071.0,640.0 1070.1,642.8 1067.7,646.6 1067.3,651.3 1069.2,657.0 1068.7,664.5 1066.8,667.8 1063.5,671.1 1061.1,674.4 1062.1,677.3 1061.6,680.6 1058.8,683.4 1058.3,685.3 1056.4,689.1 1053.6,693.3 1050.3,696.6 1046.5,697.5 1042.7,699.0 1041.3,697.5 1040.8,692.8 1039.0,686.2 1037.1,679.6 1035.2,673.0 1033.8,668.3 1034.7,663.6 1036.1,657.9 1035.7,652.3 1035.2,648.5 1032.8,644.7 1030.5,640.0 1031.6,637.4 1032.5,634.5 1031.6,629.3 1029.7,631.2 1026.4,630.3 1024.1,627.9 1021.2,627.9 1019.3,629.8 1014.6,630.6 1010.8,631.2 1008.0,628.9 1005.2,625.1 1002.8,620.8 1000.9,617.5 999.7,614.7 1000.0,611.9 1001.4,609.1 1000.9,605.3 1000.5,601.5 1001.9,597.7 1003.8,594.0 1006.1,590.2 1009.0,587.4 1010.4,583.6 1012.7,580.8 1014.6,578.4" fill="#e5f0e8"/>
<polygon points="1078.1,660.3 1080.0,660.3 1080.5,664.5 1078.6,671.1 1077.2,677.7 1075.3,682.5 1072.5,682.9 1071.0,680.6 1071.5,675.8 1072.9,671.1 1072.5,667.4 1075.3,664.5" fill="#e5f0e8"/>
<polygon points="1061.2,586.9 1063.7,583.6 1067.0,584.1 1070.3,586.9 1073.1,588.8 1074.3,588.8 1077.5,593.8 1080.0,597.5 1083.1,600.0 1085.6,598.8 1086.9,596.2 1088.2,598.2 1090.3,600.4 1089.2,604.3 1085.4,609.1 1083.0,610.0 1081.6,606.7 1078.3,607.2 1075.0,609.1 1072.2,610.5 1072.2,613.8 1073.1,617.2 1072.5,616.2 1071.9,610.0 1070.0,603.8 1067.5,597.5 1064.3,591.2" fill="#e5f0e8"/>
<polygon points="1068.4,569.0 1070.3,566.6 1073.1,567.1 1075.0,569.4 1074.1,573.7 1070.8,571.3 1069.3,572.3" fill="#e5f0e8"/>
<polygon points="1016.2,557.1 1018.6,555.2 1020.9,554.8 1023.7,552.0 1026.1,550.4 1027.3,547.6 1029.2,546.5 1028.8,543.7 1030.4,541.7 1031.6,542.9 1031.4,546.1 1034.8,545.7 1037.1,546.1 1040.3,545.3 1042.7,543.7 1044.6,542.9 1043.3,540.9 1045.4,539.9 1047.4,538.8 1048.3,542.1 1050.6,545.4 1052.5,547.3 1052.8,550.0 1050.6,550.4 1046.6,550.4 1044.2,551.6 1043.8,555.5 1047.4,556.3 1050.6,557.1 1050.9,560.7 1051.3,564.2 1050.6,567.4 1048.2,568.2 1046.6,569.4 1047.4,571.3 1045.4,572.1 1046.2,574.5 1044.2,575.3 1043.0,572.5 1041.9,570.6 1039.5,568.2 1037.1,565.4 1034.8,562.7 1032.8,559.9 1031.6,560.3 1032.4,561.5 1033.6,563.8 1035.5,566.2 1037.9,568.6 1039.1,570.6 1037.1,569.8 1038.7,572.1 1037.5,573.3 1035.9,570.9 1033.2,568.2 1030.4,565.4 1028.0,563.0 1026.1,564.2 1023.7,565.4 1022.5,567.4 1020.9,569.8 1020.1,572.5 1017.8,574.5 1014.6,575.7 1012.6,576.1 1010.3,575.3 1009.6,571.3 1010.1,567.4 1010.3,564.2 1012.6,563.3 1017.4,563.6 1019.7,563.8 1019.4,561.1 1019.0,558.7" fill="#e5f0e8"/>
<polygon points="1025.3,533.4 1026.9,531.8 1030.0,530.3 1032.4,527.1 1035.5,523.9 1038.7,521.6 1041.9,520.4 1045.0,520.0 1046.6,521.6 1045.8,523.6 1047.4,527.9 1049.0,532.6 1047.4,535.8 1047.4,538.6 1045.0,539.7 1041.9,539.4 1041.1,535.8 1041.9,532.6 1043.0,530.3 1041.9,527.9 1039.5,531.1 1037.9,535.0 1037.1,539.0 1035.9,542.1 1034.0,543.7 1032.4,542.9 1031.6,539.7 1031.2,537.4 1029.2,539.0 1026.9,539.4 1025.3,537.4" fill="#e5f0e8"/>
<polygon points="1014.6,539.7 1017.0,539.0 1017.8,541.3 1017.0,543.7 1019.4,546.1 1021.3,549.2 1020.9,551.2 1017.4,552.0 1014.2,552.4 1015.8,550.0 1016.2,547.6 1015.0,546.1 1015.4,543.7 1014.2,542.1" fill="#e5f0e8"/>
<polygon points="1010.3,545.3 1013.0,544.1 1014.2,546.1 1013.4,548.8 1010.7,550.0 1010.1,547.6" fill="#e5f0e8"/>
<polygon points="1034.8,573.7 1037.5,573.3 1037.1,574.9 1035.2,574.7" fill="#e5f0e8"/>
<polygon points="1029.2,566.6 1030.4,566.4 1030.6,570.6 1029.4,570.7" fill="#e5f0e8"/>
<polygon points="1047.4,578.1 1050.2,578.3 1049.8,578.9 1047.4,578.8" fill="#e5f0e8"/>
<polygon points="1058.1,578.1 1060.0,577.5 1059.6,578.6 1058.3,578.8" fill="#e5f0e8"/>
<polygon points="1080.0,551.9 1083.8,547.5 1090.0,545.0 1096.2,547.5 1101.2,549.4 1106.2,551.2 1111.2,553.8 1116.2,551.9 1121.2,552.5 1123.1,550.6 1127.5,551.9 1132.5,553.1 1140.0,553.8 1143.8,551.9 1145.0,548.1 1150.0,548.1 1155.0,549.4 1160.0,552.5 1163.1,557.5 1162.5,565.0 1160.0,568.8 1163.1,572.5 1166.2,577.5 1165.0,579.4 1162.5,576.9 1160.0,573.8 1158.1,570.6 1155.0,569.4 1151.9,571.9 1153.8,574.4 1157.5,575.6 1155.0,578.8 1158.1,583.1 1161.2,587.5 1160.6,592.5 1158.1,597.5 1153.8,601.2 1150.0,603.1 1148.1,605.0 1149.4,607.5 1150.6,611.9 1150.0,616.2 1147.5,621.2 1145.6,623.1 1144.4,620.0 1145.0,616.9 1142.5,615.0 1145.0,612.5 1143.8,609.4 1141.2,607.5 1139.4,604.4 1139.4,601.2 1137.5,598.8 1135.0,595.0 1134.4,591.2 1131.9,590.0 1128.8,588.8 1125.6,592.5 1123.1,590.6 1123.1,592.5 1118.8,591.2 1115.0,589.4 1111.9,586.2 1110.0,581.2 1106.9,578.8 1107.5,578.1 1104.4,575.6 1101.2,575.0 1098.8,573.8 1093.8,576.2 1090.0,578.8 1087.5,576.9 1083.8,574.4 1080.0,573.8 1072.5,571.2 1065.0,566.9 1061.2,561.2 1063.8,555.0 1072.5,551.9" fill="#e5f0e8"/>
<polygon points="1115.6,621.9 1117.5,623.8 1118.1,627.5 1116.2,628.1 1115.0,625.0" fill="#e5f0e8"/>
<polygon points="1173.1,561.2 1176.9,562.5 1178.1,564.4 1175.0,565.0 1173.1,563.8" fill="#e5f0e8"/>
<polygon points="1175.6,565.6 1177.5,570.0 1178.8,576.2 1176.2,580.0 1172.5,581.9 1169.4,583.8 1168.1,581.9 1170.6,579.4 1173.8,577.5 1175.0,572.5 1174.4,567.5" fill="#e5f0e8"/>
<polygon points="1168.1,582.5 1170.0,583.8 1169.4,585.6 1167.5,584.4" fill="#e5f0e8"/>
<polygon points="1161.9,595.6 1162.8,596.2 1162.2,600.6 1161.2,599.4" fill="#e5f0e8"/>
<polygon points="1148.8,604.4 1150.6,605.0 1150.0,606.9 1148.5,606.2" fill="#e5f0e8"/>
<polygon points="1138.1,620.0 1138.8,623.8 1140.0,626.2 1142.5,630.0 1144.4,633.8 1143.8,636.2 1141.9,635.0 1140.0,630.0 1138.1,626.2 1137.5,622.5" fill="#e5f0e8"/>
<polygon points="1151.9,636.2 1155.0,633.1 1158.8,630.0 1162.5,630.0 1162.5,631.9 1160.0,632.5 1155.0,635.6" fill="#e5f0e8"/>
<polygon points="1205.0,648.1 1207.5,650.6 1206.9,651.2 1205.0,649.4" fill="#e5f0e8"/>
<polygon points="1208.8,651.9 1213.1,654.4 1213.8,656.9 1212.5,656.2" fill="#e5f0e8"/>
<polygon points="1151.2,698.1 1152.5,692.5 1151.9,685.0 1154.4,678.1 1160.0,673.8 1165.0,668.8 1170.0,664.4 1173.8,663.1 1175.6,660.0 1178.8,658.8 1183.1,660.0 1181.9,664.4 1186.2,668.8 1188.8,665.0 1189.4,660.0 1190.6,658.1 1192.5,663.8 1193.8,670.0 1196.9,676.2 1198.8,682.5 1198.1,688.8 1195.0,695.0 1190.6,701.2 1186.9,704.4 1182.5,705.6 1178.8,704.4 1176.9,700.0 1175.0,697.5 1173.8,695.0 1170.0,693.1 1165.0,694.4 1160.0,696.2 1155.0,698.8" fill="#e5f0e8"/>
<polygon points="1179.4,709.4 1183.1,708.8 1181.9,712.5 1179.4,714.0 1178.5,711.9" fill="#e5f0e8"/>
<polygon points="1216.2,698.5 1217.5,702.5 1219.4,703.8 1216.9,706.2 1214.4,708.1 1213.1,706.9 1215.6,703.8" fill="#e5f0e8"/>
<polygon points="1212.5,708.1 1213.8,710.0 1208.8,713.8 1203.8,717.5 1200.0,719.4 1198.8,718.1 1203.1,715.0 1208.1,711.2" fill="#e5f0e8"/>
<polygon points="1213.8,673.8 1216.2,676.9 1215.6,677.5 1213.5,674.8" fill="#e5f0e8"/>
<polygon points="1071.2,561.2 1073.1,559.1 1076.2,558.4 1076.9,559.4 1075.0,561.2 1074.7,563.1 1076.2,565.0 1078.1,566.9 1079.4,569.4 1080.6,572.5 1080.0,574.7 1077.8,575.1 1076.2,573.1 1075.3,570.6 1074.1,568.1 1072.8,565.6 1071.6,563.1" fill="#ffffff"/>
<polygon points="1053.7,507.3 1057.9,507.1 1056.5,508.4" fill="#e34a33"/>
<polygon points="858.1,528.1 862.5,523.5 864.4,526.2 866.9,526.0 866.2,528.5 861.9,530.6" fill="#e34a33"/>
<polygon points="867.2,519.8 868.8,519.0 868.5,520.6" fill="#e34a33"/>
<polygon points="890.3,584.6 894.5,585.1 897.4,584.2 899.2,586.5 902.5,587.9 904.4,591.2 906.3,593.6 905.8,597.4 905.4,601.1 906.3,604.9 908.2,607.3 910.6,607.3 912.9,605.4 913.9,603.0 916.2,602.1 918.1,602.5 917.2,605.4 915.3,607.3 914.3,608.2 912.5,608.7 911.5,610.6 910.6,612.5 909.2,611.5 907.3,610.6 904.9,611.5 902.1,610.6 899.2,608.2 896.9,606.3 895.9,603.5 896.9,601.1 895.5,598.3 893.6,594.5 892.2,590.8 890.8,587.5" fill="#b30000"/>
<polygon points="886.5,583.2 889.6,583.2 890.2,584.6 889.2,585.8 889.6,588.9 890.9,593.6 892.5,598.1 891.5,599.7 889.8,596.9 888.4,593.1 887.2,588.9" fill="#b30000"/>
<polygon points="912.5,608.7 914.3,608.2 914.8,609.6 914.3,612.0 913.4,614.3 911.5,614.8 910.8,612.9 911.5,610.6" fill="#fdbb84"/>
<polygon points="932.3,606.3 934.2,605.1 935.6,605.4 935.6,607.7 932.7,607.9" fill="#e34a33"/>
<polygon points="936.9,637.2 940.0,636.0 943.8,636.6 943.8,632.9 946.2,631.0 948.1,631.6 948.8,635.4 953.8,634.8 956.9,635.4 958.1,632.2 959.4,634.1 960.0,638.5 963.8,640.4 968.1,642.9 973.8,644.1 977.5,647.9 978.8,651.6 977.5,656.0 975.0,661.0 973.8,664.8 973.8,671.0 972.5,674.8 970.0,678.5 966.2,680.4 963.8,682.9 963.1,688.5 961.2,693.5 959.4,696.6 956.9,693.5 954.4,690.4 957.5,687.2 958.1,684.1 956.2,681.0 954.4,677.2 952.5,676.0 951.9,671.0 950.0,667.2 948.8,663.5 945.0,662.2 942.5,659.8 941.9,656.6 938.8,657.2 936.2,657.9 933.1,654.8 932.5,651.6 934.4,649.1 936.9,647.2 937.5,643.5 936.9,639.8" fill="#e34a33"/>
<polygon points="931.2,619.1 934.4,617.9 935.0,619.8 933.1,622.9 934.4,626.0 938.1,627.9 939.4,631.0 938.8,635.4 936.9,637.2 937.5,642.9 934.4,642.9 932.5,641.0 930.0,639.1 926.9,637.9 925.0,637.2 926.2,634.1 927.5,629.8 928.1,625.4 929.4,621.6" fill="#fc8d59"/>
<polygon points="925.0,637.2 926.9,637.9 930.0,639.1 928.8,642.2 926.9,644.1 925.0,646.6 923.8,644.1 923.1,641.0 923.8,638.5" fill="#fc8d59"/>
<polygon points="1001.4,602.5 1006.1,601.5 1006.1,597.7 1010.4,592.5 1013.5,596.3 1013.2,611.9 1006.1,612.4 1003.3,610.9 1001.4,609.1 1000.9,605.3" fill="#fdd49e"/>
<polygon points="1013.2,595.8 1025.0,606.2 1034.0,599.2 1037.7,599.6 1038.2,604.3 1037.3,612.8 1036.3,615.7 1037.3,618.5 1036.3,622.3 1033.5,626.0 1031.6,629.3 1029.7,631.2 1026.4,630.3 1024.1,627.9 1024.1,618.0 1021.7,618.5 1021.2,619.0 1017.5,619.9 1015.1,620.4 1011.3,620.4 1010.4,616.6 1006.6,615.7 1006.1,612.4 1013.2,611.9" fill="#e34a33"/>
<polygon points="1021.7,618.5 1024.1,618.0 1024.1,627.9 1021.7,627.9 1021.2,622.3" fill="#fdd49e"/>
<polygon points="1032.5,582.6 1039.2,583.6 1042.9,585.9 1044.8,583.1 1048.1,582.6 1049.5,585.0 1049.5,604.3 1047.6,604.3 1037.7,599.6 1034.0,599.2 1031.6,594.9 1031.6,587.4" fill="#fdd49e"/>
<polygon points="1037.7,599.6 1047.6,604.3 1048.1,610.9 1046.7,615.7 1047.6,620.4 1044.8,623.2 1041.0,625.1 1038.7,626.0 1037.3,621.3 1037.3,618.5 1036.3,615.7 1037.3,612.8 1038.2,604.3" fill="#fc8d59"/>
<polygon points="1049.5,601.0 1064.0,601.0 1064.8,605.3 1065.8,608.1 1064.2,612.8 1063.2,616.6 1061.8,619.4 1059.9,622.3 1059.0,618.5 1057.1,621.3 1053.3,622.3 1050.0,621.3 1047.6,620.4 1046.7,615.7 1048.1,610.9 1047.6,604.3 1049.5,604.3" fill="#e34a33"/>
<polygon points="1050.0,621.3 1053.3,622.3 1057.1,621.3 1059.0,618.5 1059.9,622.3 1060.8,626.0 1062.3,629.8 1059.9,632.2 1056.6,632.2 1053.8,630.8 1051.4,627.9 1049.5,625.1" fill="#fc8d59"/>
<polygon points="1061.8,619.4 1063.2,616.6 1064.2,612.8 1065.8,608.3 1067.5,611.2 1070.0,615.0 1071.9,618.1 1072.6,620.4 1073.1,623.2 1077.4,625.1 1075.0,628.9 1071.2,631.7 1068.4,632.6 1064.6,631.7 1062.3,629.8 1060.8,626.0 1059.9,622.3" fill="#e34a33"/>
<polygon points="1073.1,620.4 1075.0,620.4 1081.4,618.5 1080.7,624.2 1078.8,628.9 1075.9,633.6 1073.1,637.4 1070.8,641.1 1069.8,635.5 1070.3,632.6 1071.2,631.7 1075.0,628.9 1077.4,625.1 1073.1,623.2" fill="#e34a33"/>
<polygon points="1038.7,626.0 1041.0,625.1 1044.8,623.2 1047.6,620.4 1050.0,621.3 1049.5,625.1 1051.4,627.9 1053.8,630.8 1050.5,629.8 1046.7,630.3 1042.9,630.8 1040.1,633.6 1038.2,630.8" fill="#fc8d59"/>
<polygon points="1037.3,621.3 1038.7,626.0 1038.2,630.8 1040.1,633.6 1039.2,635.5 1035.4,635.5 1032.5,634.5 1031.6,629.3 1033.5,626.0 1036.3,622.3" fill="#fc8d59"/>
<polygon points="1062.3,629.8 1064.6,631.7 1068.4,632.6 1070.3,632.6 1069.8,635.5 1070.1,642.8 1067.7,646.6 1065.4,644.7 1062.5,642.8 1061.6,640.0 1061.3,635.5 1062.3,632.6" fill="#fdbb84"/>
<polygon points="1042.9,630.8 1046.7,630.3 1050.5,629.8 1053.8,630.8 1056.6,632.2 1057.1,635.5 1055.9,640.0 1055.9,640.0 1056.4,645.7 1055.9,649.4 1056.9,652.3 1054.5,654.2 1054.1,657.0 1055.9,659.8 1055.5,661.7 1053.6,659.8 1051.2,658.4 1048.9,658.4 1047.0,657.9 1046.0,651.8 1041.3,652.3 1040.4,649.4 1035.7,649.4 1035.2,648.0 1038.0,647.1 1039.4,643.8 1040.4,640.0 1042.0,640.0 1042.5,634.5" fill="#e34a33"/>
<polygon points="1040.1,633.6 1042.9,630.8 1042.5,634.5 1042.0,640.0 1040.4,640.0 1040.4,640.0 1039.4,643.8 1038.0,647.1 1035.2,648.0 1034.2,646.1 1035.2,643.3 1037.5,641.9 1038.5,640.0 1037.7,640.0 1039.2,635.5" fill="#fc8d59"/>
<polygon points="1035.7,649.4 1040.4,649.4 1041.3,652.3 1046.0,651.8 1047.0,657.9 1048.9,658.4 1047.9,661.2 1046.5,661.7 1047.0,668.8 1044.2,669.2 1039.9,668.3 1034.2,668.3 1034.7,663.6 1036.1,657.9 1035.7,652.3" fill="#fdbb84"/>
<polygon points="1061.6,660.3 1065.4,658.4 1069.0,657.0 1069.2,664.5 1066.8,667.8 1063.5,671.1 1061.1,674.4 1062.1,677.3 1061.6,680.6 1058.8,683.4 1057.8,684.8 1057.1,681.5 1057.4,677.7 1058.8,674.9 1059.7,672.1 1060.2,668.3 1058.8,667.4 1056.4,665.5 1056.9,664.1 1060.2,663.6 1061.1,665.5 1062.1,666.4 1061.6,663.1" fill="#fc8d59"/>
<polygon points="1072.2,610.8 1075.0,609.1 1078.3,607.2 1081.6,606.7 1083.0,610.0 1081.6,612.8 1077.8,614.7 1074.5,616.6 1073.1,617.3 1072.5,614.2" fill="#fc8d59"/>
<polygon points="1060.4,585.0 1062.3,583.1 1063.7,583.6 1063.2,587.4 1061.3,588.3" fill="#fdd49e"/>
<polygon points="1049.4,567.5 1050.0,569.4 1052.5,567.5 1056.2,566.9 1060.6,567.8 1064.4,568.1 1068.1,569.4 1069.4,571.2 1070.0,572.5 1070.6,574.1 1068.8,575.0 1066.9,575.3 1063.4,575.9 1061.2,576.9 1058.8,575.6 1055.0,576.2 1051.9,575.6 1050.0,574.4 1049.7,574.1 1049.2,571.2" fill="#fdbb84"/>
<polygon points="1061.2,576.9 1063.4,575.9 1066.9,575.3 1068.8,575.0 1066.8,578.9 1065.0,580.0 1062.8,581.9 1061.2,582.5" fill="#e34a33"/>
<polygon points="1065.0,580.0 1066.8,578.9 1068.8,575.0 1070.6,574.1 1071.6,577.5 1073.4,580.6 1075.0,583.8 1075.3,586.2 1075.0,586.9 1073.8,588.1 1071.2,586.9 1068.1,584.4 1065.6,582.5" fill="#fc8d59"/>
<polygon points="1070.0,572.5 1071.9,571.9 1073.8,572.5 1076.2,575.0 1077.8,575.3 1080.6,574.7 1083.8,573.8 1086.9,575.0 1089.1,576.9 1090.6,577.8 1090.0,580.0 1091.2,583.8 1090.9,587.5 1093.1,590.0 1093.8,593.0 1092.4,595.1 1088.2,594.5 1086.2,594.1 1082.6,592.4 1078.8,589.8 1076.4,587.8 1075.0,586.9 1075.3,586.2 1075.0,583.8 1073.4,580.6 1071.6,577.5 1070.6,574.1" fill="#fc8d59"/>
<polygon points="1090.0,578.8 1090.6,577.8 1093.1,577.5 1095.6,576.2 1099.4,573.4 1100.6,575.6 1100.9,578.8 1099.4,582.5 1097.5,585.6 1095.0,587.5 1091.9,588.1 1090.9,587.5 1091.2,583.8 1090.0,580.0" fill="#fc8d59"/>
<polygon points="1100.6,575.6 1103.1,574.7 1106.2,576.2 1107.8,578.1 1107.0,578.8 1105.1,581.2 1106.2,585.0 1105.5,590.0 1102.6,593.8 1103.8,596.2 1101.2,597.5 1098.8,595.0 1092.5,595.0 1093.8,593.0 1093.1,590.0 1090.9,587.5 1091.9,588.1 1095.0,587.5 1097.5,585.6 1099.4,582.5 1100.9,578.8" fill="#e34a33"/>
<polygon points="1027.3,547.3 1028.8,545.7 1031.6,545.3 1034.4,546.5 1035.2,549.2 1034.8,552.4 1034.0,555.2 1033.2,557.0 1030.4,557.0 1028.4,555.9 1028.0,553.2 1027.3,550.8" fill="#fdd49e"/>
<polygon points="1044.2,551.6 1046.6,550.4 1050.6,550.4 1052.8,550.0 1054.5,549.6 1056.1,551.2 1058.8,552.8 1061.2,554.0 1062.0,555.9 1060.8,557.9 1058.5,558.7 1058.1,561.5 1056.5,561.7 1055.7,559.5 1053.7,558.7 1052.5,559.9 1051.3,560.3 1050.6,557.1 1047.4,556.3 1043.8,555.5" fill="#b30000"/>
<polygon points="1040.1,545.1 1042.7,545.0 1042.7,545.9 1040.1,545.9" fill="#e34a33"/>
<polygon points="1046.2,523.1 1053.1,522.8 1060.0,525.6 1055.6,528.8 1060.0,527.8 1065.0,525.0 1072.5,523.1 1076.9,521.9 1078.1,518.1 1080.0,517.5 1083.1,520.6 1085.0,526.2 1086.2,525.0 1085.0,519.4 1088.1,516.9 1092.5,514.4 1100.0,512.5 1105.0,512.5 1111.2,513.8 1113.8,515.6 1120.0,516.9 1125.0,517.5 1130.0,519.4 1135.0,520.0 1137.5,517.5 1142.5,518.1 1148.8,519.4 1155.0,520.6 1160.0,521.9 1165.0,521.0 1167.5,522.5 1170.0,521.9 1175.0,521.9 1180.0,525.0 1183.8,528.8 1188.1,532.2 1183.8,533.8 1181.2,536.2 1177.5,536.9 1179.4,539.4 1181.2,542.5 1182.5,547.5 1182.8,551.2 1180.0,548.8 1176.9,545.0 1174.4,541.9 1174.0,538.1 1175.0,533.8 1173.1,533.1 1171.2,536.2 1169.4,538.1 1168.1,535.0 1162.5,538.1 1157.5,540.0 1156.2,545.0 1160.0,546.2 1163.8,546.9 1165.6,548.8 1167.5,553.8 1167.5,560.0 1166.2,564.4 1163.8,565.0 1162.5,561.9 1163.1,557.5 1161.2,553.8 1157.5,550.0 1152.5,547.5 1146.2,548.1 1143.8,550.6 1143.1,553.1 1138.8,553.8 1135.0,553.1 1132.5,554.4 1127.5,553.1 1123.8,551.2 1121.2,551.9 1120.0,553.1 1116.2,551.9 1112.5,553.8 1110.0,551.9 1105.0,550.0 1101.2,548.1 1097.5,546.9 1092.5,545.6 1088.8,545.0 1085.0,546.2 1082.5,548.1 1083.1,550.0 1075.0,550.6 1071.2,551.9 1069.4,555.0 1070.6,560.0 1073.1,565.0 1073.5,567.5 1070.0,566.2 1066.9,564.4 1063.8,563.1 1061.9,561.2 1062.5,557.5 1061.2,555.0 1060.0,553.1 1057.5,551.9 1055.0,550.0 1053.1,549.4 1051.2,548.8 1049.4,546.9 1048.1,543.8 1047.5,540.0 1048.1,536.2 1048.8,532.5 1047.5,528.8 1046.2,525.6" fill="#e34a33"/>
<polygon points="1164.4,546.9 1166.9,549.4 1170.0,553.8 1173.1,559.0 1171.2,558.1 1168.1,553.8 1165.0,549.4" fill="#e34a33"/>
<polygon points="1063.8,519.4 1065.0,515.0 1070.0,512.5 1074.4,512.1 1071.2,513.8 1067.5,515.6 1066.9,519.4 1068.8,520.6 1065.0,520.6" fill="#e34a33"/>
<polygon points="1088.1,507.5 1092.5,507.2 1097.5,509.4 1100.6,511.0 1096.9,510.6 1092.5,509.4 1088.8,508.5" fill="#e34a33"/>
<polygon points="1130.0,513.8 1135.0,513.5 1141.2,514.4 1137.5,515.0 1131.2,514.8" fill="#e34a33"/>
<polygon points="1136.2,605.0 1139.4,604.4 1141.2,607.5 1143.8,609.4 1145.0,612.5 1142.5,615.0 1141.2,617.5 1138.8,615.0 1138.1,620.0 1137.5,622.5 1136.9,617.5 1136.2,612.5 1135.6,608.8" fill="#fdbb84"/>
<polygon points="1131.9,590.0 1134.4,591.2 1135.0,595.0 1137.5,598.8 1139.4,601.2 1139.4,604.4 1136.2,605.0 1135.6,608.8 1136.9,615.0 1137.8,621.2 1136.9,617.5 1135.6,612.5 1133.8,610.6 1131.9,611.2 1130.0,605.0 1128.8,600.0 1130.0,596.2 1130.6,592.5" fill="#e34a33"/>
<polygon points="1123.1,590.6 1125.6,592.5 1128.8,588.8 1131.9,590.0 1130.6,592.5 1130.0,596.2 1128.8,600.0 1126.9,601.2 1125.6,598.1 1123.8,598.8" fill="#fc8d59"/>
<polygon points="1106.9,578.8 1110.0,581.2 1111.9,586.2 1115.0,589.4 1118.8,591.2 1123.1,592.5 1123.8,598.8 1126.9,601.2 1122.5,603.8 1118.8,610.0 1116.2,616.2 1114.4,622.5 1113.1,625.0 1110.6,620.0 1108.1,612.5 1105.6,605.0 1102.5,602.5 1101.2,598.8 1103.8,596.2 1102.5,593.8 1105.6,590.0 1106.2,585.0 1105.0,581.2" fill="#fc8d59"/>
<polygon points="1163.1,607.5 1165.0,607.5 1165.6,612.5 1167.5,615.6 1166.2,616.9 1164.4,613.8 1162.8,610.6" fill="#fc8d59"/>
<polygon points="1166.9,617.5 1169.4,618.8 1170.0,622.5 1171.9,625.6 1170.6,628.8 1168.1,626.2 1166.2,626.9 1167.5,623.8 1166.2,620.0" fill="#fc8d59"/>
<polygon points="1160.6,623.1 1162.5,620.0 1162.8,621.0 1161.2,624.0" fill="#fc8d59"/>
<polygon points="1137.8,621.2 1138.8,623.1 1140.6,626.9 1139.8,627.5 1138.2,625.0" fill="#fdbb84"/>
<polygon points="1134.4,630.0 1137.5,630.6 1141.2,635.6 1145.0,641.2 1147.5,645.0 1148.1,648.8 1145.0,648.1 1141.2,643.1 1138.1,637.5 1135.6,633.1" fill="#fdbb84"/>
<polygon points="1146.9,648.8 1151.2,650.0 1156.2,651.9 1158.8,653.1 1157.5,654.0 1152.5,653.1 1148.1,651.2" fill="#fdbb84"/>
<polygon points="1160.0,653.1 1163.8,653.1 1167.5,653.8 1166.2,655.0 1162.5,654.8" fill="#fdbb84"/>
<polygon points="1168.1,655.0 1172.5,653.1 1171.9,654.4 1168.8,656.5" fill="#fdbb84"/>
<polygon points="1151.2,636.9 1155.0,635.6 1160.0,632.5 1161.9,633.8 1161.9,638.8 1160.0,645.0 1157.5,645.6 1153.8,643.8 1151.2,640.6" fill="#fdbb84"/>
<polygon points="1163.5,639.4 1166.2,637.5 1170.0,636.2 1169.8,637.5 1166.9,639.4 1167.5,642.5 1168.1,647.5 1166.2,648.8 1165.6,645.0 1164.4,648.8 1163.1,647.5 1163.1,642.5" fill="#fdbb84"/>
<polygon points="1173.1,635.6 1174.4,636.2 1174.8,639.4 1173.5,638.8" fill="#fdbb84"/>
<polygon points="1171.9,644.4 1176.2,643.8 1176.9,645.0 1172.5,645.2" fill="#fdbb84"/>
<polygon points="1177.5,640.0 1180.0,639.4 1181.9,641.9 1186.2,641.9 1189.4,643.1 1189.4,654.4 1186.9,653.8 1185.0,651.2 1185.6,648.8 1182.5,646.2 1180.0,643.8 1178.8,641.9" fill="#fdbb84"/>
<polygon points="1189.4,643.1 1192.5,645.0 1195.6,648.8 1196.9,652.5 1200.0,656.2 1198.8,657.2 1195.6,654.4 1192.5,653.8 1189.4,654.4" fill="#fc8d59"/>
<polygon points="1198.1,648.1 1201.9,646.9 1203.1,644.4 1204.0,645.6 1202.5,648.1 1199.4,649.8" fill="#fc8d59"/>
<polygon points="1063.8,609.5 1065.1,608.4 1066.6,610.6 1068.1,613.1 1070.0,615.6 1072.0,618.2 1072.4,619.9 1070.9,619.8 1069.4,617.5 1067.5,615.0 1065.9,614.1 1064.1,614.4 1063.8,611.9" fill="#e5f0e9"/>
</g>
<polyline points="897.5,521.5 886.9,536.0 888.8,538.8" fill="none" stroke="#55605a" stroke-opacity=".5" stroke-width="0.35"/>
<polyline points="890.6,554.0 920.0,554.4 925.0,556.0 930.0,558.1 931.9,561.2 930.0,566.9 932.5,566.2 937.5,563.5 943.8,561.2 946.2,558.1 948.8,556.9" fill="none" stroke="#55605a" stroke-opacity=".5" stroke-width="0.35"/>
<polyline points="947.5,624.1 946.2,627.9 948.8,631.0 948.1,635.4" fill="none" stroke="#55605a" stroke-opacity=".5" stroke-width="0.35"/>
<polyline points="951.2,627.9 951.9,634.8" fill="none" stroke="#55605a" stroke-opacity=".5" stroke-width="0.35"/>
<polyline points="955.0,628.8 954.8,634.5" fill="none" stroke="#55605a" stroke-opacity=".5" stroke-width="0.35"/>
<polyline points="938.1,657.2 938.8,663.5 938.1,669.1 938.1,671.0 940.0,678.5 939.4,688.5 940.0,698.5 941.2,707.2 941.9,717.2 943.8,726.0 948.8,731.0" fill="none" stroke="#55605a" stroke-opacity=".5" stroke-width="0.35"/>
<polyline points="938.1,669.1 940.0,672.9 942.5,676.0 946.2,672.9 950.0,667.2" fill="none" stroke="#55605a" stroke-opacity=".5" stroke-width="0.35"/>
<polyline points="946.2,672.9 950.0,672.2 952.5,676.0 956.2,681.0 953.8,683.5 950.0,681.0 947.5,677.2 946.2,672.9" fill="none" stroke="#55605a" stroke-opacity=".5" stroke-width="0.35"/>
<polyline points="954.4,690.4 953.8,694.8 955.0,699.8 958.1,699.8" fill="none" stroke="#55605a" stroke-opacity=".5" stroke-width="0.35"/>
<polyline points="925.0,646.6 928.8,648.5 932.5,651.6" fill="none" stroke="#55605a" stroke-opacity=".5" stroke-width="0.35"/>
<polyline points="1018.4,578.4 1016.5,583.6 1010.8,587.4 1010.4,592.5" fill="none" stroke="#55605a" stroke-opacity=".5" stroke-width="0.35"/>
<polyline points="1006.1,590.2 1010.4,590.2" fill="none" stroke="#55605a" stroke-opacity=".5" stroke-width="0.35"/>
<polyline points="1029.7,575.1 1029.2,579.8 1031.6,582.6 1031.6,587.4" fill="none" stroke="#55605a" stroke-opacity=".5" stroke-width="0.35"/>
<polyline points="1049.5,585.0 1049.5,601.0" fill="none" stroke="#55605a" stroke-opacity=".5" stroke-width="0.35"/>
<polyline points="999.7,614.7 1003.3,614.2 1006.1,615.7" fill="none" stroke="#55605a" stroke-opacity=".5" stroke-width="0.35"/>
<polyline points="1000.9,617.5 1004.2,618.0 1006.6,615.7" fill="none" stroke="#55605a" stroke-opacity=".5" stroke-width="0.35"/>
<polyline points="1008.0,620.4 1007.1,625.1 1008.0,628.9" fill="none" stroke="#55605a" stroke-opacity=".5" stroke-width="0.35"/>
<polyline points="1011.3,620.4 1010.8,631.2" fill="none" stroke="#55605a" stroke-opacity=".5" stroke-width="0.35"/>
<polyline points="1016.5,620.4 1017.0,630.6" fill="none" stroke="#55605a" stroke-opacity=".5" stroke-width="0.35"/>
<polyline points="1019.3,620.4 1019.3,629.8" fill="none" stroke="#55605a" stroke-opacity=".5" stroke-width="0.35"/>
<polyline points="1003.3,621.3 1006.6,620.4 1008.0,620.4" fill="none" stroke="#55605a" stroke-opacity=".5" stroke-width="0.35"/>
<polyline points="1044.2,669.2 1044.6,676.8 1043.2,677.7 1043.2,688.1 1041.8,689.1" fill="none" stroke="#55605a" stroke-opacity=".5" stroke-width="0.35"/>
<polyline points="1044.6,683.4 1049.3,681.5 1054.1,677.3 1056.9,677.7" fill="none" stroke="#55605a" stroke-opacity=".5" stroke-width="0.35"/>
<polyline points="1047.0,668.8 1050.3,669.2 1054.1,666.9 1056.4,665.5" fill="none" stroke="#55605a" stroke-opacity=".5" stroke-width="0.35"/>
<polyline points="1050.3,669.2 1054.1,677.3" fill="none" stroke="#55605a" stroke-opacity=".5" stroke-width="0.35"/>
<polyline points="1056.4,645.7 1061.6,640.0" fill="none" stroke="#55605a" stroke-opacity=".5" stroke-width="0.35"/>
<polyline points="1056.9,652.3 1061.6,660.3 1061.6,663.1" fill="none" stroke="#55605a" stroke-opacity=".5" stroke-width="0.35"/>
<polyline points="1055.9,649.4 1059.7,652.3 1061.6,660.3" fill="none" stroke="#55605a" stroke-opacity=".5" stroke-width="0.35"/>
<polyline points="1067.7,646.6 1062.5,642.8 1061.6,640.0" fill="none" stroke="#55605a" stroke-opacity=".5" stroke-width="0.35"/>
<polyline points="1054.1,666.9 1055.5,661.7" fill="none" stroke="#55605a" stroke-opacity=".5" stroke-width="0.35"/>
<polyline points="1111.2,553.8 1113.8,557.5 1118.8,561.2 1125.0,564.4 1132.5,566.2 1138.8,565.0 1142.5,561.2 1145.0,558.1 1147.5,556.9 1145.0,555.0 1143.8,551.9" fill="none" stroke="#55605a" stroke-opacity=".5" stroke-width="0.35"/>
<polyline points="1111.2,553.8 1108.8,557.5 1106.9,563.8 1107.5,566.2 1102.5,566.9 1098.8,570.0 1101.2,575.0" fill="none" stroke="#55605a" stroke-opacity=".5" stroke-width="0.35"/>
<polyline points="1062.5,565.0 1068.8,566.9 1072.5,571.2 1077.5,569.4 1082.5,571.2 1087.5,570.0 1091.2,571.9 1096.2,570.0 1098.8,570.0" fill="none" stroke="#55605a" stroke-opacity=".5" stroke-width="0.35"/>
<polyline points="1077.5,573.5 1081.2,569.4 1082.5,571.2" fill="none" stroke="#55605a" stroke-opacity=".5" stroke-width="0.35"/>
<polyline points="1155.0,569.4 1160.0,568.8" fill="none" stroke="#55605a" stroke-opacity=".5" stroke-width="0.35"/>
<polyline points="1148.1,605.0 1145.0,603.8 1142.5,600.0 1139.4,601.2" fill="none" stroke="#55605a" stroke-opacity=".5" stroke-width="0.35"/>
<polyline points="1142.5,600.0 1143.8,606.2 1146.2,610.0 1145.0,612.5" fill="none" stroke="#55605a" stroke-opacity=".5" stroke-width="0.35"/>
<polyline points="1145.0,612.5 1148.1,613.8 1150.0,616.2" fill="none" stroke="#55605a" stroke-opacity=".5" stroke-width="0.35"/>
<polyline points="1023.7,552.0 1025.3,554.0 1028.0,554.8 1028.4,555.9" fill="none" stroke="#55605a" stroke-opacity=".5" stroke-width="0.35"/>
<polyline points="1019.7,563.8 1023.7,565.4" fill="none" stroke="#55605a" stroke-opacity=".5" stroke-width="0.35"/>
<polyline points="1028.0,563.0 1027.3,559.5 1028.4,557.1 1030.4,557.0" fill="none" stroke="#55605a" stroke-opacity=".5" stroke-width="0.35"/>
<polyline points="1033.2,557.0 1034.8,557.9 1037.1,557.1 1037.9,554.8 1035.2,552.4" fill="none" stroke="#55605a" stroke-opacity=".5" stroke-width="0.35"/>
<polyline points="1035.2,549.2 1037.9,548.4 1041.1,548.8 1043.8,550.8" fill="none" stroke="#55605a" stroke-opacity=".5" stroke-width="0.35"/>
<polyline points="1034.8,545.7 1035.2,549.2" fill="none" stroke="#55605a" stroke-opacity=".5" stroke-width="0.35"/>
<polyline points="1043.8,555.5 1041.1,555.2 1037.9,554.8" fill="none" stroke="#55605a" stroke-opacity=".5" stroke-width="0.35"/>
<polyline points="1044.2,551.6 1041.1,548.8" fill="none" stroke="#55605a" stroke-opacity=".5" stroke-width="0.35"/>
<polyline points="1046.6,550.4 1045.8,546.9 1048.2,543.7 1050.6,545.4" fill="none" stroke="#55605a" stroke-opacity=".5" stroke-width="0.35"/>
<polyline points="1042.7,543.7 1044.2,546.1 1045.8,546.9" fill="none" stroke="#55605a" stroke-opacity=".5" stroke-width="0.35"/>
<polyline points="1032.8,559.9 1035.5,558.7 1038.7,557.9 1041.1,555.2" fill="none" stroke="#55605a" stroke-opacity=".5" stroke-width="0.35"/>
<polyline points="1038.7,557.9 1041.1,561.1 1044.2,560.3 1047.4,556.3" fill="none" stroke="#55605a" stroke-opacity=".5" stroke-width="0.35"/>
<polyline points="1044.2,560.3 1045.0,564.2 1048.2,565.0 1051.3,564.2" fill="none" stroke="#55605a" stroke-opacity=".5" stroke-width="0.35"/>
<polyline points="1041.1,561.1 1040.3,564.2 1041.9,567.4 1044.2,567.4 1045.0,564.2" fill="none" stroke="#55605a" stroke-opacity=".5" stroke-width="0.35"/>
<polyline points="1041.9,567.4 1042.7,570.6" fill="none" stroke="#55605a" stroke-opacity=".5" stroke-width="0.35"/>
<polyline points="1044.2,567.4 1046.6,569.4" fill="none" stroke="#55605a" stroke-opacity=".5" stroke-width="0.35"/>
<polyline points="1035.5,523.9 1037.1,527.1 1036.3,531.1 1034.8,535.8 1032.4,542.9" fill="none" stroke="#55605a" stroke-opacity=".5" stroke-width="0.35"/>
<polyline points="1041.9,527.9 1042.7,524.7 1045.0,523.2 1045.8,523.6" fill="none" stroke="#55605a" stroke-opacity=".5" stroke-width="0.35"/>
<polyline points="1010.3,564.2 1011.5,569.0 1010.3,575.3" fill="none" stroke="#55605a" stroke-opacity=".5" stroke-width="0.35"/>
<polyline points="1025.0,606.2 1025.9,609.1 1024.5,612.8 1021.2,614.2 1019.3,613.8 1016.5,616.6 1015.1,620.4" fill="none" stroke="#55605a" stroke-opacity=".5" stroke-width="0.35"/>
<polyline points="1021.2,614.2 1023.1,616.6 1025.0,616.6 1027.8,615.7 1031.6,616.6 1036.3,615.7" fill="none" stroke="#55605a" stroke-opacity=".5" stroke-width="0.35"/>
<polyline points="1023.1,616.6 1021.2,619.0 1017.5,619.9" fill="none" stroke="#55605a" stroke-opacity=".5" stroke-width="0.35"/>
<polyline points="1025.0,616.6 1024.1,618.0" fill="none" stroke="#55605a" stroke-opacity=".5" stroke-width="0.35"/>
<defs><pattern id="nd" width="2.2" height="2.2" patternUnits="userSpaceOnUse" patternTransform="rotate(-50)"><rect width="2.2" height="2.2" fill="#fff"/><rect width="2.2" height="0.55" fill="#c9c9c9"/></pattern></defs>
<rect x="944.6" y="758.3" width="25" height="7.3" fill="url(#nd)" stroke="#cfcfcf" stroke-width="0.5"/>
<rect x="979.1" y="758.3" width="30.5" height="7.3" fill="#e5f0e8"/>
<rect x="1009.6" y="758.3" width="29.8" height="7.3" fill="#fdd49e"/>
<rect x="1039.4" y="758.3" width="30.0" height="7.3" fill="#fdbb84"/>
<rect x="1069.4" y="758.3" width="30.6" height="7.3" fill="#fc8d59"/>
<rect x="1100" y="758.3" width="30.0" height="7.3" fill="#e34a33"/>
<path d="M1130 758.3H1157.2L1160.2 761.95L1157.2 765.6H1130Z" fill="#b30000"/>
<path d="M1157.2 758.3H979.1V765.6H1157.2" fill="none" stroke="#b9c4bd" stroke-width="0.35"/>
<path d="M1009.6 756.8V765.6" stroke="#9aa39d" stroke-width="0.35"/>
<path d="M1039.4 756.8V765.6" stroke="#9aa39d" stroke-width="0.35"/>
<path d="M1069.4 756.8V765.6" stroke="#9aa39d" stroke-width="0.35"/>
<path d="M1100 756.8V765.6" stroke="#9aa39d" stroke-width="0.35"/>
<path d="M1130 756.8V765.6" stroke="#9aa39d" stroke-width="0.35"/>
<path d="M994.6 756.8V758.3M957 756.8V758.3" stroke="#9aa39d" stroke-width="0.35"/>
<text x="944.8" y="754.1" text-anchor="start" textLength="24.3" lengthAdjust="spacingAndGlyphs" class="ml">No data</text>
<text x="994.6" y="754.1" text-anchor="middle" textLength="3.7" lengthAdjust="spacingAndGlyphs" class="ml">0</text>
<text x="1009.8" y="754.1" text-anchor="middle" textLength="7.9" lengthAdjust="spacingAndGlyphs" class="ml">&lt;1</text>
<text x="1040" y="754.1" text-anchor="middle" textLength="7.5" lengthAdjust="spacingAndGlyphs" class="ml">10</text>
<text x="1070.4" y="754.1" text-anchor="middle" textLength="11.3" lengthAdjust="spacingAndGlyphs" class="ml">100</text>
<text x="1100.3" y="754.1" text-anchor="middle" textLength="17.4" lengthAdjust="spacingAndGlyphs" class="ml">1,000</text>
<text x="1130.5" y="754.1" text-anchor="middle" textLength="21.6" lengthAdjust="spacingAndGlyphs" class="ml">10,000</text>
</svg>
</body></html>
